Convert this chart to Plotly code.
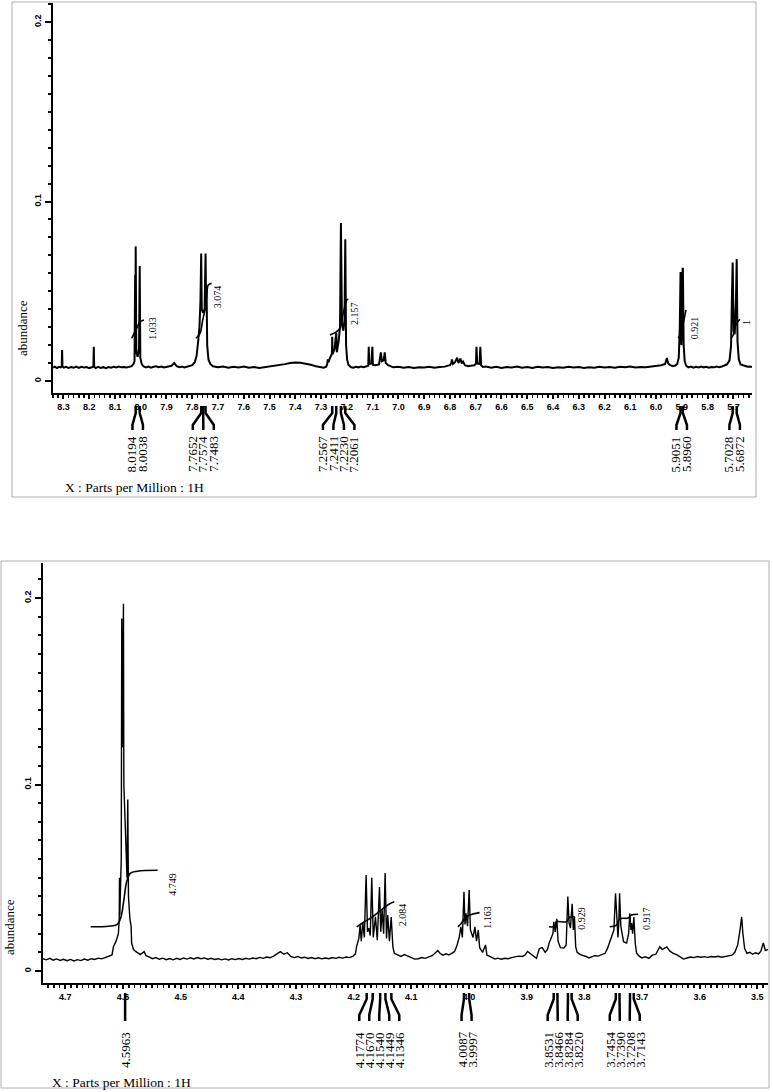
import plotly.graph_objects as go

W, H = 773, 1092

# ---------------- data ----------------
# top spectrum: (ppm, abundance)
TOP_SPECTRUM = [
    (8.3403, 0.0075), (8.333, 0.0080), (8.325, 0.0072), (8.317, 0.0079), (8.310, 0.0076),
    (8.3065, 0.0080), (8.3050, 0.0172), (8.3035, 0.0080), (8.298, 0.0074), (8.290, 0.0079),
    (8.280, 0.0073), (8.270, 0.0078), (8.260, 0.0074), (8.250, 0.0080), (8.240, 0.0073),
    (8.230, 0.0079), (8.220, 0.0075), (8.210, 0.0078), (8.200, 0.0072), (8.190, 0.0077),
    (8.1835, 0.0079), (8.1820, 0.0190), (8.1805, 0.0079), (8.175, 0.0072), (8.165, 0.0079),
    (8.155, 0.0073), (8.145, 0.0077), (8.135, 0.0072), (8.125, 0.0078), (8.115, 0.0074),
    (8.105, 0.0079), (8.095, 0.0075), (8.085, 0.0080), (8.075, 0.0076), (8.065, 0.0078),
    (8.055, 0.0075), (8.045, 0.0081), (8.035, 0.0083), (8.028, 0.0095), (8.024, 0.0110),
    (8.0215, 0.0590), (8.0205, 0.0160), (8.0194, 0.0750), (8.0170, 0.0160), (8.0120, 0.0135),
    (8.0065, 0.0180), (8.0038, 0.0640), (8.0015, 0.0130), (7.9960, 0.0095), (7.990, 0.0082),
    (7.980, 0.0076), (7.970, 0.0080), (7.960, 0.0074), (7.950, 0.0079), (7.940, 0.0082),
    (7.930, 0.0077), (7.920, 0.0080), (7.910, 0.0075), (7.900, 0.0078), (7.880, 0.0085),
    (7.870, 0.0100), (7.860, 0.0082), (7.850, 0.0077), (7.840, 0.0080), (7.830, 0.0076),
    (7.820, 0.0079), (7.810, 0.0082), (7.800, 0.0088), (7.790, 0.0105), (7.783, 0.0140),
    (7.777, 0.0220), (7.772, 0.0300), (7.768, 0.0450), (7.7662, 0.0710), (7.7652, 0.0710),
    (7.7630, 0.0400), (7.7574, 0.0380), (7.7520, 0.0400), (7.7493, 0.0710), (7.7483, 0.0710),
    (7.7460, 0.0400), (7.7445, 0.0530), (7.7420, 0.0200), (7.7370, 0.0120), (7.730, 0.0095),
    (7.720, 0.0082), (7.700, 0.0076), (7.680, 0.0080), (7.660, 0.0074), (7.640, 0.0079),
    (7.620, 0.0075), (7.600, 0.0080), (7.580, 0.0074), (7.560, 0.0078), (7.540, 0.0073),
    (7.520, 0.0077), (7.500, 0.0079), (7.480, 0.0083), (7.460, 0.0088), (7.440, 0.0094),
    (7.420, 0.0100), (7.400, 0.0103), (7.380, 0.0101), (7.360, 0.0097), (7.340, 0.0090),
    (7.320, 0.0082), (7.300, 0.0078), (7.290, 0.0074), (7.280, 0.0080), (7.276, 0.0095),
    (7.274, 0.0120), (7.271, 0.0105), (7.265, 0.0130), (7.258, 0.0150), (7.2567, 0.0247),
    (7.2555, 0.0150), (7.2475, 0.0180), (7.2411, 0.0270), (7.2390, 0.0160), (7.2320, 0.0220),
    (7.2265, 0.0300), (7.2230, 0.0880), (7.2190, 0.0320), (7.2135, 0.0280), (7.2090, 0.0340),
    (7.2061, 0.0790), (7.2030, 0.0200), (7.1990, 0.0120), (7.1940, 0.0090), (7.185, 0.0078),
    (7.175, 0.0074), (7.165, 0.0079), (7.155, 0.0076), (7.145, 0.0080), (7.135, 0.0077),
    (7.125, 0.0081), (7.117, 0.0085), (7.115, 0.0190), (7.113, 0.0095), (7.105, 0.0098),
    (7.101, 0.0190), (7.099, 0.0090), (7.090, 0.0088), (7.075, 0.0092), (7.068, 0.0160),
    (7.064, 0.0110), (7.057, 0.0115), (7.053, 0.0160), (7.049, 0.0100), (7.040, 0.0088),
    (7.030, 0.0080), (7.020, 0.0076), (7.000, 0.0079), (6.980, 0.0074), (6.960, 0.0078),
    (6.940, 0.0073), (6.920, 0.0077), (6.900, 0.0075), (6.880, 0.0079), (6.860, 0.0074),
    (6.840, 0.0078), (6.820, 0.0080), (6.800, 0.0088), (6.795, 0.0098), (6.792, 0.0120),
    (6.788, 0.0095), (6.780, 0.0105), (6.772, 0.0130), (6.767, 0.0100), (6.759, 0.0125),
    (6.754, 0.0098), (6.749, 0.0108), (6.742, 0.0088), (6.730, 0.0082), (6.720, 0.0085),
    (6.705, 0.0088), (6.699, 0.0098), (6.697, 0.0190), (6.694, 0.0098), (6.685, 0.0095),
    (6.682, 0.0190), (6.679, 0.0088), (6.672, 0.0078), (6.660, 0.0080), (6.640, 0.0074),
    (6.620, 0.0079), (6.600, 0.0073), (6.580, 0.0078), (6.560, 0.0075), (6.540, 0.0080),
    (6.520, 0.0074), (6.500, 0.0078), (6.480, 0.0073), (6.460, 0.0079), (6.440, 0.0075),
    (6.420, 0.0078), (6.400, 0.0073), (6.380, 0.0077), (6.360, 0.0074), (6.340, 0.0079),
    (6.320, 0.0075), (6.300, 0.0078), (6.280, 0.0073), (6.260, 0.0077), (6.240, 0.0074),
    (6.220, 0.0079), (6.200, 0.0075), (6.180, 0.0078), (6.160, 0.0074), (6.140, 0.0079),
    (6.120, 0.0076), (6.100, 0.0080), (6.080, 0.0075), (6.060, 0.0078), (6.040, 0.0076),
    (6.020, 0.0080), (6.000, 0.0083), (5.980, 0.0088), (5.965, 0.0095), (5.958, 0.0128),
    (5.953, 0.0098), (5.945, 0.0088), (5.935, 0.0083), (5.925, 0.0086), (5.918, 0.0095),
    (5.912, 0.0130), (5.908, 0.0300), (5.9061, 0.0607), (5.9051, 0.0607), (5.9020, 0.0200),
    (5.8990, 0.0300), (5.8970, 0.0626), (5.8960, 0.0626), (5.8930, 0.0200), (5.8890, 0.0110),
    (5.883, 0.0085), (5.875, 0.0076), (5.865, 0.0080), (5.855, 0.0074), (5.845, 0.0079),
    (5.835, 0.0075), (5.825, 0.0080), (5.815, 0.0076), (5.805, 0.0079), (5.795, 0.0074),
    (5.785, 0.0078), (5.775, 0.0076), (5.765, 0.0080), (5.755, 0.0077), (5.745, 0.0081),
    (5.735, 0.0085), (5.725, 0.0092), (5.715, 0.0115), (5.709, 0.0200), (5.706, 0.0450),
    (5.7038, 0.0660), (5.7028, 0.0660), (5.6990, 0.0280), (5.6950, 0.0260), (5.6900, 0.0450),
    (5.6882, 0.0680), (5.6872, 0.0680), (5.6840, 0.0220), (5.6790, 0.0120), (5.672, 0.0092),
    (5.665, 0.0088), (5.655, 0.0082), (5.645, 0.0079), (5.635, 0.0081), (5.6278, 0.0078),
]

BOTTOM_SPECTRUM = [
    (4.7387, 0.0066), (4.733, 0.0060), (4.727, 0.0068), (4.721, 0.0058), (4.715, 0.0065),
    (4.709, 0.0057), (4.703, 0.0063), (4.697, 0.0055), (4.691, 0.0062), (4.685, 0.0054),
    (4.679, 0.0061), (4.673, 0.0056), (4.667, 0.0064), (4.661, 0.0058), (4.655, 0.0066),
    (4.649, 0.0062), (4.643, 0.0069), (4.637, 0.0065), (4.631, 0.0072), (4.625, 0.0078),
    (4.619, 0.0086), (4.6166, 0.0130), (4.612, 0.0160), (4.608, 0.0200), (4.6065, 0.0280),
    (4.6061, 0.0500), (4.6055, 0.0300), (4.6030, 0.0600), (4.6021, 0.1890), (4.6010, 0.1200),
    (4.5998, 0.1500), (4.5992, 0.1970), (4.5985, 0.1000), (4.5950, 0.0600), (4.5930, 0.0500),
    (4.5917, 0.0920), (4.5905, 0.0400), (4.5880, 0.0280), (4.5859, 0.0240), (4.5850, 0.0150),
    (4.5818, 0.0115), (4.578, 0.0105), (4.574, 0.0098), (4.570, 0.0088), (4.5633, 0.0104),
    (4.560, 0.0082), (4.555, 0.0076), (4.549, 0.0066), (4.543, 0.0072), (4.537, 0.0063),
    (4.531, 0.0069), (4.525, 0.0061), (4.519, 0.0067), (4.513, 0.0060), (4.507, 0.0068),
    (4.501, 0.0062), (4.495, 0.0070), (4.489, 0.0064), (4.483, 0.0071), (4.477, 0.0065),
    (4.471, 0.0072), (4.465, 0.0066), (4.459, 0.0070), (4.453, 0.0063), (4.447, 0.0068),
    (4.441, 0.0062), (4.435, 0.0066), (4.429, 0.0060), (4.423, 0.0065), (4.417, 0.0059),
    (4.411, 0.0066), (4.405, 0.0061), (4.399, 0.0067), (4.393, 0.0062), (4.387, 0.0068),
    (4.381, 0.0064), (4.375, 0.0070), (4.369, 0.0066), (4.363, 0.0073), (4.357, 0.0068),
    (4.351, 0.0075), (4.345, 0.0071), (4.339, 0.0080), (4.333, 0.0092), (4.327, 0.0104),
    (4.321, 0.0090), (4.315, 0.0098), (4.309, 0.0078), (4.303, 0.0072), (4.297, 0.0078),
    (4.291, 0.0070), (4.285, 0.0074), (4.279, 0.0067), (4.273, 0.0072), (4.267, 0.0066),
    (4.261, 0.0071), (4.255, 0.0065), (4.249, 0.0070), (4.243, 0.0066), (4.237, 0.0072),
    (4.231, 0.0068), (4.225, 0.0074), (4.219, 0.0069), (4.213, 0.0075), (4.207, 0.0072),
    (4.201, 0.0080), (4.197, 0.0092), (4.195, 0.0130), (4.191, 0.0175), (4.1888, 0.0247),
    (4.1868, 0.0160), (4.1842, 0.0260), (4.1815, 0.0180), (4.1784, 0.0515), (4.1760, 0.0210),
    (4.1738, 0.0230), (4.1712, 0.0190), (4.1686, 0.0500), (4.1660, 0.0180), (4.1622, 0.0290),
    (4.1590, 0.0165), (4.1552, 0.0450), (4.1530, 0.0210), (4.1506, 0.0330), (4.1480, 0.0200),
    (4.1454, 0.0525), (4.1430, 0.0175), (4.1409, 0.0300), (4.1380, 0.0160), (4.1349, 0.0290),
    (4.1320, 0.0130), (4.1295, 0.0095), (4.124, 0.0085), (4.118, 0.0078), (4.112, 0.0088),
    (4.106, 0.0080), (4.100, 0.0072), (4.094, 0.0064), (4.088, 0.0066), (4.082, 0.0072),
    (4.076, 0.0068), (4.070, 0.0075), (4.064, 0.0082), (4.058, 0.0098), (4.054, 0.0110),
    (4.050, 0.0094), (4.045, 0.0085), (4.040, 0.0092), (4.035, 0.0086), (4.030, 0.0095),
    (4.025, 0.0105), (4.021, 0.0135), (4.017, 0.0180), (4.0141, 0.0237), (4.0115, 0.0180),
    (4.0087, 0.0425), (4.0070, 0.0250), (4.0054, 0.0310), (4.0025, 0.0240), (3.9997, 0.0434),
    (3.9975, 0.0220), (3.9930, 0.0180), (3.9897, 0.0237), (3.9870, 0.0160), (3.9839, 0.0220),
    (3.9815, 0.0125), (3.9765, 0.0100), (3.9712, 0.0140), (3.9690, 0.0085), (3.965, 0.0080),
    (3.960, 0.0070), (3.955, 0.0064), (3.950, 0.0069), (3.944, 0.0063), (3.938, 0.0068),
    (3.932, 0.0066), (3.926, 0.0072), (3.920, 0.0075), (3.914, 0.0080), (3.908, 0.0078),
    (3.903, 0.0085), (3.8985, 0.0105), (3.893, 0.0090), (3.888, 0.0080), (3.883, 0.0068),
    (3.878, 0.0120), (3.873, 0.0125), (3.868, 0.0100), (3.864, 0.0115), (3.861, 0.0150),
    (3.8545, 0.0200), (3.8529, 0.0264), (3.8505, 0.0210), (3.8477, 0.0280), (3.8455, 0.0160),
    (3.8415, 0.0125), (3.8355, 0.0123), (3.8315, 0.0140), (3.8300, 0.0250), (3.8286, 0.0400),
    (3.8265, 0.0260), (3.8241, 0.0230), (3.8225, 0.0300), (3.8211, 0.0360), (3.8190, 0.0220),
    (3.8171, 0.0290), (3.8150, 0.0130), (3.8125, 0.0100), (3.807, 0.0088), (3.802, 0.0085),
    (3.797, 0.0078), (3.792, 0.0070), (3.787, 0.0076), (3.782, 0.0082), (3.776, 0.0080),
    (3.770, 0.0088), (3.764, 0.0095), (3.760, 0.0120), (3.756, 0.0160), (3.7487, 0.0220),
    (3.7459, 0.0417), (3.7432, 0.0250), (3.7417, 0.0180), (3.7402, 0.0260), (3.7389, 0.0417),
    (3.7367, 0.0240), (3.7320, 0.0157), (3.7267, 0.0150), (3.7232, 0.0200), (3.7211, 0.0310),
    (3.7192, 0.0220), (3.7181, 0.0257), (3.7162, 0.0200), (3.7141, 0.0290), (3.7117, 0.0150),
    (3.7094, 0.0095), (3.705, 0.0080), (3.700, 0.0070), (3.694, 0.0076), (3.688, 0.0068),
    (3.682, 0.0085), (3.676, 0.0090), (3.672, 0.0110), (3.669, 0.0130), (3.665, 0.0115),
    (3.661, 0.0120), (3.657, 0.0129), (3.652, 0.0108), (3.646, 0.0095), (3.640, 0.0088),
    (3.634, 0.0075), (3.628, 0.0064), (3.622, 0.0070), (3.616, 0.0075), (3.610, 0.0072),
    (3.604, 0.0078), (3.598, 0.0074), (3.592, 0.0077), (3.586, 0.0073), (3.580, 0.0078),
    (3.574, 0.0075), (3.568, 0.0079), (3.562, 0.0074), (3.556, 0.0078), (3.550, 0.0080),
    (3.544, 0.0085), (3.539, 0.0100), (3.534, 0.0140), (3.530, 0.0220), (3.5272, 0.0290),
    (3.5250, 0.0200), (3.5220, 0.0120), (3.518, 0.0095), (3.513, 0.0100), (3.508, 0.0090),
    (3.503, 0.0098), (3.498, 0.0092), (3.494, 0.0105), (3.4897, 0.0150), (3.486, 0.0110),
    (3.4815, 0.0115),
]

# peak labels (ppm) drawn under the axes
TOP_PEAK_GROUPS = [
    [8.0194, 8.0038],
    [7.7652, 7.7574, 7.7483],
    [7.2567, 7.2411, 7.2230, 7.2061],
    [5.9051, 5.8960],
    [5.7028, 5.6872],
]
BOTTOM_PEAK_GROUPS = [
    [4.5963],
    [4.1774, 4.1670, 4.1540, 4.1449, 4.1346],
    [4.0087, 3.9997],
    [3.8531, 3.8466, 3.8284, 3.8220],
    [3.7454, 3.7390, 3.7208, 3.7143],
]

# integral curves and their values
TOP_INTEGRAL_VALUES = ["1.033", "3.074", "2.157", "0.921", "1"]
TOP_INTEGRAL_CURVES = [
    [(8.0349, 0.0238), (8.0221, 0.0275), (8.0155, 0.0294), (8.0027, 0.0330), (7.9872, 0.0340)],
    [(7.7854, 0.0238), (7.7699, 0.0265), (7.7594, 0.0340), (7.7505, 0.0396), (7.7439, 0.0470),
     (7.7377, 0.0535), (7.7245, 0.0544)],
    [(7.2654, 0.0256), (7.2394, 0.0275), (7.2266, 0.0294), (7.2200, 0.0340), (7.2111, 0.0396),
     (7.2006, 0.0451), (7.1944, 0.0455)],
    [(5.9138, 0.0238), (5.9006, 0.0275), (5.8944, 0.0321), (5.8878, 0.0368), (5.8840, 0.0396)],
    [(5.7094, 0.0238), (5.7005, 0.0256), (5.6939, 0.0294), (5.6873, 0.0321), (5.6745, 0.0344)],
]
TOP_INTEGRAL_LABEL_AT = [(7.9573, 0.0295), (7.7012, 0.0470), (7.1684, 0.0379), (5.8516, 0.0295), (5.6498, 0.0325)]

BOTTOM_INTEGRAL_VALUES = ["4.749", "2.084", "1.163", "0.929", "0.917"]
BOTTOM_INTEGRAL_CURVES = [
    [(4.656, 0.0237), (4.625, 0.0240), (4.610, 0.0250), (4.6035, 0.0290), (4.5985, 0.0380),
     (4.5935, 0.0480), (4.5870, 0.0525), (4.5750, 0.0535), (4.5400, 0.0540)],
    [(4.1946, 0.0237), (4.1813, 0.0264), (4.1669, 0.0291), (4.1523, 0.0327), (4.1409, 0.0354),
     (4.1295, 0.0372)],
    [(4.0193, 0.0237), (4.0135, 0.0255), (4.0047, 0.0291), (3.9960, 0.0303), (3.9816, 0.0313)],
    [(3.8613, 0.0237), (3.8514, 0.0240), (3.8485, 0.0264), (3.8311, 0.0264), (3.8254, 0.0288),
     (3.8167, 0.0291)],
    [(3.7559, 0.0237), (3.7443, 0.0246), (3.7385, 0.0280), (3.7241, 0.0284), (3.7182, 0.0300),
     (3.7067, 0.0304)],
]
BOTTOM_INTEGRAL_LABEL_AT = [(4.5156, 0.0466), (4.1158, 0.0300), (3.9672, 0.0291), (3.8050, 0.0283), (3.6934, 0.0283)]

Y_TICKS = [0, 0.1, 0.2]
Y_TICK_TEXT = ["0", "0.1", "0.2"]

# ---------------- layout (pixel geometry) ----------------
PANELS = [
    dict(name="top", xa="x", ya="y", px=(53, 752), py=(3, 393),
         xrange=[8.3403, 5.6278], yrange=[-0.00669, 0.2106], minor_dx=0.02,
         box=(12, 2, 756, 497), label_top=434, fan=(406, 413, 425, 430), spacing=10.5,
         ylab=(22, 328), xlab=(63, 488), spectrum=TOP_SPECTRUM, groups=TOP_PEAK_GROUPS,
         ivals=TOP_INTEGRAL_VALUES, icurves=TOP_INTEGRAL_CURVES, ilabels=TOP_INTEGRAL_LABEL_AT,
         lw=2.0),
    dict(name="bottom", xa="x2", ya="y2", px=(43, 768), py=(563, 983),
         xrange=[4.7387, 3.4815], yrange=[-0.00643, 0.2188], minor_dx=0.01,
         box=(1, 561, 769, 1088), label_top=1030, fan=(993, 999, 1015, 1021), spacing=10.0,
         ylab=(9, 927), xlab=(50, 1082), spectrum=BOTTOM_SPECTRUM, groups=BOTTOM_PEAK_GROUPS,
         ivals=BOTTOM_INTEGRAL_VALUES, icurves=BOTTOM_INTEGRAL_CURVES, ilabels=BOTTOM_INTEGRAL_LABEL_AT,
         lw=1.4),
]

SERIF = "Liberation Serif, Times New Roman, serif"
SANS = "Liberation Sans, Arial, sans-serif"


def py2paper(p):
    return 1 - p / H


def px2paper(p):
    return p / W


fig = go.Figure()
shapes = []
annotations = []
layout_axes = {}

for P in PANELS:
    xa, ya = P["xa"], P["ya"]
    x0, x1 = P["px"]
    y0, y1 = P["py"]
    r0, r1 = P["xrange"]
    ppm_per_px = (r0 - r1) / (x1 - x0)

    def ppm_to_px(v, r0=r0, x0=x0, ppm_per_px=ppm_per_px):
        return x0 + (r0 - v) / ppm_per_px

    def px_to_ppm(p, r0=r0, x0=x0, ppm_per_px=ppm_per_px):
        return r0 - (p - x0) * ppm_per_px

    # spectrum
    fig.add_trace(go.Scatter(
        x=[p[0] for p in P["spectrum"]], y=[p[1] for p in P["spectrum"]],
        mode="lines", line=dict(color="black", width=P["lw"]),
        xaxis=xa, yaxis=ya, showlegend=False, hoverinfo="skip"))

    # integral curves
    for curve in P["icurves"]:
        fig.add_trace(go.Scatter(
            x=[c[0] for c in curve], y=[c[1] for c in curve], mode="lines",
            line=dict(color="black", width=1.6, shape="spline"),
            xaxis=xa, yaxis=ya, showlegend=False, hoverinfo="skip"))
    for val, (lx, ly) in zip(P["ivals"], P["ilabels"]):
        annotations.append(dict(x=lx, y=ly, xref=xa, yref=ya, text=val, showarrow=False,
                                textangle=-90, xanchor="center", yanchor="middle",
                                font=dict(family=SERIF, size=10, color="black")))

    # axes
    xkey = "xaxis" if xa == "x" else "xaxis2"
    ykey = "yaxis" if ya == "y" else "yaxis2"
    layout_axes[xkey] = dict(
        domain=[px2paper(x0), px2paper(x1)], range=P["xrange"], anchor=ya,
        showline=True, linecolor="black", linewidth=2, showgrid=False, zeroline=False,
        ticks="outside", ticklen=4, tickwidth=2, tickcolor="black",
        tick0=0, dtick=0.1, tickformat=".1f",
        tickfont=dict(family=SANS, size=9, color="black", weight="bold"),
        minor=dict(ticks="outside", ticklen=3, tickwidth=1.5, tickcolor="black",
                   tick0=0, dtick=P["minor_dx"], showgrid=False),
        fixedrange=True)
    layout_axes[ykey] = dict(
        domain=[py2paper(y1), py2paper(y0)], range=P["yrange"], anchor=xa,
        showline=True, linecolor="black", linewidth=2, showgrid=False, zeroline=False,
        ticks="outside", ticklen=6, tickwidth=2, tickcolor="black",
        tickvals=Y_TICKS, ticktext=Y_TICK_TEXT, tickangle=-90,
        tickfont=dict(family=SANS, size=9, color="black", weight="bold"),
        minor=dict(ticks="outside", ticklen=3, tickwidth=2, tickcolor="black",
                   tick0=0, dtick=0.01, showgrid=False),
        fixedrange=True)

    # panel frame
    bx0, by0, bx1, by1 = P["box"]
    shapes.append(dict(type="rect", xref="paper", yref="paper",
                       x0=px2paper(bx0), x1=px2paper(bx1), y0=py2paper(by1), y1=py2paper(by0),
                       line=dict(color="#b0b0b0", width=1), layer="below"))

    # peak labels with fan lines
    fa, fb, fc, fd = P["fan"]
    for group in P["groups"]:
        n = len(group)
        centre = sum(ppm_to_px(v) for v in group) / n
        for i, v in enumerate(group):
            lpx = centre + (i - (n - 1) / 2) * P["spacing"]
            lppm = px_to_ppm(lpx)
            path = (f"M {v},{py2paper(fa)} L {v},{py2paper(fb)} "
                    f"L {lppm},{py2paper(fc)} L {lppm},{py2paper(fd)}")
            shapes.append(dict(type="path", xref=xa, yref="paper", path=path,
                               line=dict(color="black", width=2.5)))
            annotations.append(dict(x=lppm, y=py2paper(P["label_top"]), xref=xa, yref="paper",
                                    text=f"{v:.4f}", showarrow=False, textangle=-90,
                                    xanchor="center", yanchor="top",
                                    font=dict(family=SERIF, size=13, color="black")))

    # axis captions
    lx, ly = P["ylab"]
    annotations.append(dict(x=px2paper(lx), y=py2paper(ly), xref="paper", yref="paper",
                            text="abundance", showarrow=False, textangle=-90,
                            xanchor="center", yanchor="middle",
                            font=dict(family=SERIF, size=13, color="black")))
    tx, ty = P["xlab"]
    annotations.append(dict(x=px2paper(tx), y=py2paper(ty), xref="paper", yref="paper",
                            text="X : Parts per Million : 1H", showarrow=False,
                            xanchor="left", yanchor="middle",
                            font=dict(family=SERIF, size=13.5, color="black")))

fig.update_layout(
    width=W, height=H, autosize=False,
    margin=dict(l=0, r=0, t=0, b=0, pad=0),
    paper_bgcolor="white", plot_bgcolor="white",
    showlegend=False, shapes=shapes, annotations=annotations,
    **layout_axes)

fig.write_html("out.html",
               config={"displayModeBar": False, "staticPlot": True},
               post_script="document.body.style.margin='0';document.body.style.padding='0';")
